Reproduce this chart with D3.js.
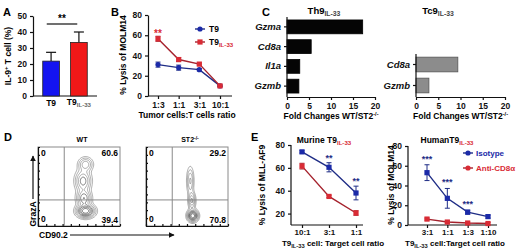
<!DOCTYPE html>
<html>
<head>
<meta charset="utf-8">
<script src="https://cdn.jsdelivr.net/npm/d3@7"></script>
<style>
  body { margin: 0; background: #fff; }
  svg { display: block; font-family: "Liberation Sans", Arial, sans-serif; font-weight: bold; }
  .axis path, .axis line { stroke: #111; stroke-width: 1.2; }
  .axis text { font-size: 8.5px; font-weight: bold; fill: #111; font-family: "Liberation Sans", Arial, sans-serif; }
</style>
</head>
<body>
<svg id="fig" width="520" height="250"></svg>
<script>
// ---- panel A
var aGroups = ['T9', 'T9IL-33'];
var aValues = [21.8, 33.5];
var aErrors = [5.5, 6.5];
var aTicks = [0, 10, 20, 30, 40, 50];

// ---- panel B
var bRatios = ['1:3', '1:1', '3:1', '10:1'];
var bT9 = [31, 28, 26, 10];
var bT9Err = [2.5, 2.5, 1.2, 0.8];
var bT9IL33 = [56.5, 36, 31.5, 10];
var bT9IL33Err = [2.5, 2, 1, 0.8];
var bTicks = [0, 20, 40, 60, 80];

// ---- panel C
var cTh9Genes = ['Gzma', 'Cd8a', 'Il1a', 'Gzmb'];
var cTh9Fold = [17.2, 5.5, 2.9, 2.7];
var cTc9Genes = ['Cd8a', 'Gzmb'];
var cTc9Fold = [9.4, 2.9];
var cTicks = [0, 5, 10, 15, 20];

// ---- panel D (quadrant %, density components [x, y, sx, sy, weight] in 0-100 units)
var dWTQuad = ['0', '60.6', '0', '39.4'];
var dST2Quad = ['0', '29.2', '0', '70.8'];
var dWTBlobs = [[58, 19, 6, 4.5, 1.0], [56, 35, 5, 6, 0.5], [55, 57, 5.5, 8, 0.45], [58, 78, 5, 5, 0.35]];
var dST2Blobs = [[57, 13, 3.5, 4, 1.0], [56, 32, 2.5, 6, 0.4], [54, 57, 2.5, 10, 0.28]];

// ---- panel E
var eMurineRatios = ['10:1', '3:1', '1:1'];
var eMurineIso = [74, 60.5, 38];
var eMurineIsoErr = [1, 4, 6];
var eMurineCD8 = [61.5, 35, 20.5];
var eMurineCD8Err = [2.5, 1, 2];
var eMurineStars = ['', '**', '**'];
var eMurineTicks = [20, 40, 60, 80];
var eHumanRatios = ['3:1', '1:1', '1:3', '1:10'];
var eHumanIso = [53, 27, 13, 8.5];
var eHumanIsoErr = [8, 10, 2, 1.5];
var eHumanCD8 = [6, 3, 2, 1.5];
var eHumanCD8Err = [1, 1, 1, 1];
var eHumanStars = ['***', '***', '***', ''];
var eHumanTicks = [0, 20, 40, 60, 80];

var svg = d3.select('#fig');
var BLUE = '#1b2aa8', NAVY = '#1f2d86', RED = '#d92b35', DRED = '#a5222d';

function label(x, y, txt, size, anchor) {
    return svg.append('text').attr('x', x).attr('y', y)
        .attr('text-anchor', anchor || 'start')
        .style('font-size', size + 'px').text(txt);
}

// main text + subscript tspan
function subText(g, x, y, main, sub, size, anchor, subColor) {
    var t = g.append('text').attr('x', x).attr('y', y).attr('text-anchor', anchor || 'middle')
        .style('font-size', size + 'px');
    t.append('tspan').text(main);
    t.append('tspan').attr('dy', 2).style('font-size', (size * 0.72) + 'px')
        .attr('fill', subColor || '#111').text(sub);
    return t;
}

function yTitle(x, y, txt, size) {
    return svg.append('text').attr('transform', 'translate(' + x + ',' + y + ') rotate(-90)')
        .attr('text-anchor', 'middle').style('font-size', size + 'px').text(txt);
}

function axis(g, gen, tx, ty) {
    return g.append('g').attr('class', 'axis')
        .attr('transform', 'translate(' + tx + ',' + ty + ')').call(gen);
}

// ================= A =================
label(3, 16, 'A', 11);
var ay = d3.scaleLinear().domain([0, 50]).range([96, 16]);
var ax = d3.scaleBand().domain(aGroups).range([33, 97]).paddingInner(0.4).paddingOuter(0.35);
axis(svg, d3.axisLeft(ay).tickValues(aTicks).tickSize(3).tickSizeOuter(0), 33, 0);
svg.append('line').attr('x1', 33).attr('x2', 97).attr('y1', 96).attr('y2', 96)
    .attr('stroke', '#111').attr('stroke-width', 1.2);
var aColors = ['#1414f0', '#f01818'];
aGroups.forEach(function(g, i) {
    var cx = ax(g) + ax.bandwidth() / 2;
    svg.append('line').attr('x1', cx).attr('x2', cx)
        .attr('y1', ay(aValues[i])).attr('y2', ay(aValues[i] + aErrors[i]))
        .attr('stroke', '#111').attr('stroke-width', 1.2);
    svg.append('line').attr('x1', cx - 5).attr('x2', cx + 5)
        .attr('y1', ay(aValues[i] + aErrors[i])).attr('y2', ay(aValues[i] + aErrors[i]))
        .attr('stroke', '#111').attr('stroke-width', 1.2);
    svg.append('rect').attr('x', ax(g)).attr('width', ax.bandwidth())
        .attr('y', ay(aValues[i])).attr('height', ay(0) - ay(aValues[i]))
        .attr('fill', aColors[i]).attr('stroke', '#222').attr('stroke-width', 0.8);
});
label(ax('T9') + ax.bandwidth() / 2, 106, 'T9', 8.5, 'middle');
subText(svg, ax('T9IL-33') + ax.bandwidth() / 2, 105, 'T9', 'IL-33', 8.5, 'middle', '#666');
svg.append('line').attr('x1', ax('T9') + 4).attr('x2', ax('T9IL-33') + ax.bandwidth() - 10)
    .attr('y1', 24).attr('y2', 24).attr('stroke', '#111').attr('stroke-width', 1.2);
label(62, 22, '**', 10, 'middle');
var at = svg.append('text').attr('transform', 'translate(11,56) rotate(-90)')
    .attr('text-anchor', 'middle').style('font-size', '8.5px');
at.append('tspan').text('IL-9');
at.append('tspan').attr('dy', -3).style('font-size', '6px').text('+');
at.append('tspan').attr('dy', 3).text(' T cell (%)');

// ================= B =================
label(111, 16, 'B', 11);
var by = d3.scaleLinear().domain([0, 80]).range([96, 15]);
var bx = d3.scalePoint().domain(bRatios).range([158, 220]);
axis(svg, d3.axisLeft(by).tickValues(bTicks).tickSize(3).tickSizeOuter(0), 148, 0);
axis(svg, d3.axisBottom(bx).tickSize(3).tickSizeOuter(0), 0, 96)
    .select('.domain').attr('d', 'M148,0H232');
yTitle(126, 55, '% Lysis of MOLM14', 8.5);
label(187, 118, 'Tumor cells:T cells ratio', 8.5, 'middle');

function series(xs, ys, cats, vals, errs, lineC, markC, shape) {
    var line = d3.line().x(function(d, i) { return xs(cats[i]); }).y(function(d) { return ys(d); });
    svg.append('path').datum(vals).attr('d', line).attr('fill', 'none')
        .attr('stroke', lineC).attr('stroke-width', 1.4);
    vals.forEach(function(v, i) {
        var x = xs(cats[i]);
        svg.append('line').attr('x1', x).attr('x2', x).attr('y1', ys(v - errs[i])).attr('y2', ys(v + errs[i]))
            .attr('stroke', lineC).attr('stroke-width', 1);
        [v - errs[i], v + errs[i]].forEach(function(e) {
            svg.append('line').attr('x1', x - 2.5).attr('x2', x + 2.5).attr('y1', ys(e)).attr('y2', ys(e))
                .attr('stroke', lineC).attr('stroke-width', 1);
        });
        drawMark(x, ys(v), markC, shape);
    });
}
function drawMark(x, y, c, shape) {
    if (shape === 'circle') {
        svg.append('circle').attr('cx', x).attr('cy', y).attr('r', 2.6).attr('fill', c);
    } else {
        svg.append('rect').attr('x', x - 2.6).attr('y', y - 2.6).attr('width', 5.2).attr('height', 5.2).attr('fill', c);
    }
}
series(bx, by, bRatios, bT9, bT9Err, NAVY, BLUE, 'circle');
series(bx, by, bRatios, bT9IL33, bT9IL33Err, DRED, RED, 'square');
svg.append('text').attr('x', bx('1:3')).attr('y', by(bT9IL33[0] + bT9IL33Err[0]) + 1)
    .attr('text-anchor', 'middle').attr('fill', RED).style('font-size', '10px').text('**');
// legend
svg.append('line').attr('x1', 195).attr('x2', 205).attr('y1', 29).attr('y2', 29).attr('stroke', NAVY).attr('stroke-width', 1.4);
drawMark(200, 29, BLUE, 'circle');
label(209, 32, 'T9', 8.5);
svg.append('line').attr('x1', 195).attr('x2', 205).attr('y1', 42).attr('y2', 42).attr('stroke', DRED).attr('stroke-width', 1.4);
drawMark(200, 42, RED, 'square');
subText(svg, 209, 45, 'T9', 'IL-33', 8.5, 'start', RED);

// ================= C =================
label(262, 16, 'C', 11);
function hbars(genes, vals, x0, x1, r0, r1, fill, stroke) {
    var xs = d3.scaleLinear().domain([0, 20]).range([x0, x1]);
    var ys = d3.scaleBand().domain(genes).range([r0, r1]).paddingInner(0.3).paddingOuter(0.15);
    svg.selectAll(null).data(genes).enter().append('rect')
        .attr('x', xs(0)).attr('y', function(d) { return ys(d); })
        .attr('width', function(d, i) { return xs(vals[i]) - xs(0); })
        .attr('height', ys.bandwidth()).attr('fill', fill).attr('stroke', stroke).attr('stroke-width', 0.8);
    var ya = axis(svg, d3.axisLeft(ys).tickSize(3).tickSizeOuter(0), x0, 0);
    ya.selectAll('text').style('font-style', 'italic').style('font-size', '9.5px');
    ya.select('.domain').attr('d', 'M0,' + r0 + 'V' + 97);
    axis(svg, d3.axisBottom(xs).tickValues(cTicks).tickSize(3).tickSizeOuter(0), 0, 97);
    var tt = svg.append('text').attr('x', (x0 + x1) / 2).attr('y', 119)
        .attr('text-anchor', 'middle').style('font-size', '8.5px');
    tt.append('tspan').text('Fold Changes WT/ST2');
    tt.append('tspan').attr('dy', -3).style('font-size', '5.5px').text('-/-');
}
hbars(cTh9Genes, cTh9Fold, 287, 375, 17, 96, '#050505', '#000');
hbars(cTc9Genes, cTc9Fold, 416, 505, 54, 96, '#8c8c8c', '#555');
subText(svg, 324, 14, 'Th9', 'IL-33', 9.5, 'middle', '#444');
subText(svg, 438, 14, 'Tc9', 'IL-33', 9.5, 'middle', '#444');

// ================= D =================
label(4, 141, 'D', 11);
function flowPlot(x0, x1, title, titleSup, quad, blobs) {
    var y0 = 147, y1 = 226, n = 90;
    var ux = d3.scaleLinear().domain([0, 100]).range([x0, x1]);
    var uy = d3.scaleLinear().domain([0, 100]).range([y1, y0]);
    var gx = d3.scaleLinear().domain([0, n]).range([x0, x1]);
    var gy = d3.scaleLinear().domain([0, n]).range([y0, y1]);
    var values = new Array(n * n);
    for (var j = 0; j < n; j++) {
        for (var i = 0; i < n; i++) {
            var px = (i + 0.5) / n * 100, py = 100 - (j + 0.5) / n * 100, s = 0;
            blobs.forEach(function(b) {
                s += b[4] * Math.exp(-((px - b[0]) * (px - b[0]) / (2 * b[2] * b[2]) + (py - b[1]) * (py - b[1]) / (2 * b[3] * b[3])));
            });
            values[j * n + i] = s;
        }
    }
    var mx = d3.max(values);
    var levels = [0.05, 0.1, 0.17, 0.26, 0.37, 0.5, 0.65, 0.82].map(function(f) { return f * mx; });
    var contours = d3.contours().size([n, n]).thresholds(levels)(values);
    var path = d3.geoPath(d3.geoTransform({
        point: function(x, y) { this.stream.point(gx(x), gy(y)); }
    }));
    svg.append('rect').attr('x', x0).attr('y', y0).attr('width', x1 - x0).attr('height', y1 - y0)
        .attr('fill', 'none').attr('stroke', '#8a8a8a').attr('stroke-width', 1);
    svg.append('g').selectAll('path').data(contours).enter().append('path')
        .attr('d', path).attr('fill', 'none').attr('stroke', function(d, i) { return i > 3 ? '#333' : '#777'; })
        .attr('stroke-width', 0.6);
    svg.append('line').attr('x1', ux(32)).attr('x2', ux(32)).attr('y1', y0).attr('y2', y1).attr('stroke', '#8a8a8a');
    svg.append('line').attr('x1', x0).attr('x2', x1).attr('y1', uy(33)).attr('y2', uy(33)).attr('stroke', '#8a8a8a');
    // small frame ticks
    axis(svg, d3.axisRight(uy).ticks(8).tickFormat('').tickSize(2).tickSizeOuter(0), x0, 0)
        .selectAll('path,line').attr('stroke', '#999').attr('stroke-width', 0.7);
    axis(svg, d3.axisTop(ux).ticks(10).tickFormat('').tickSize(2).tickSizeOuter(0), 0, y1)
        .selectAll('path,line').attr('stroke', '#999').attr('stroke-width', 0.7);
    label(x0 + 3, y0 + 9, quad[0], 8.5);
    label(x1 - 2, y0 + 9, quad[1], 8.5, 'end');
    label(x0 + 3, y1 - 4, quad[2], 8.5);
    label(x1 - 2, y1 - 3, quad[3], 8.5, 'end');
    var t = svg.append('text').attr('x', (x0 + x1) / 2 + 3).attr('y', 142).attr('text-anchor', 'middle').style('font-size', '7px');
    t.append('tspan').text(title);
    if (titleSup) t.append('tspan').attr('dy', -2.5).style('font-size', '5px').text(titleSup);
}
flowPlot(38, 120, 'WT', '', dWTQuad, dWTBlobs);
flowPlot(146, 228, 'ST2', '-/-', dST2Quad, dST2Blobs);
svg.append('defs').append('marker').attr('id', 'arr').attr('viewBox', '0 0 10 10')
    .attr('refX', 9).attr('refY', 5).attr('markerWidth', 5).attr('markerHeight', 5).attr('orient', 'auto')
    .append('path').attr('d', 'M0,0L10,5L0,10z').attr('fill', '#111');
svg.append('line').attr('x1', 33).attr('x2', 33).attr('y1', 199).attr('y2', 156)
    .attr('stroke', '#111').attr('stroke-width', 1.2).attr('marker-end', 'url(#arr)');
yTitle(36, 214, 'GrazA', 8.5);
label(39, 238, 'CD90.2', 8.5);
svg.append('line').attr('x1', 70).attr('x2', 174).attr('y1', 235).attr('y2', 235)
    .attr('stroke', '#111').attr('stroke-width', 1.2).attr('marker-end', 'url(#arr)');

// ================= E =================
label(251, 141, 'E', 11);
function lysisPlot(cats, iso, isoErr, cd8, cd8Err, stars, ticks, ymin, yr, xr, ax0, ax1, starDy) {
    var ys = d3.scaleLinear().domain([ymin, 80]).range(yr);
    var xs = d3.scalePoint().domain(cats).range(xr);
    axis(svg, d3.axisLeft(ys).tickValues(ticks).tickSize(3).tickSizeOuter(0), ax0, 0)
        .select('.domain').attr('d', 'M0,' + yr[1] + 'V' + yr[0]);
    var xa = axis(svg, d3.axisBottom(xs).tickSize(3).tickPadding(1.5).tickSizeOuter(0), 0, yr[0]);
    xa.select('.domain').attr('d', 'M' + ax0 + ',0H' + ax1);
    xa.selectAll('text').style('font-size', '8px');
    series(xs, ys, cats, cd8, cd8Err, DRED, RED, 'square');
    series(xs, ys, cats, iso, isoErr, NAVY, BLUE, 'square');
    stars.forEach(function(s, i) {
        if (!s) return;
        svg.append('text').attr('x', xs(cats[i])).attr('y', ys(iso[i] + isoErr[i]) - starDy)
            .attr('text-anchor', 'middle').attr('fill', NAVY).style('font-size', '9px').text(s);
    });
}
lysisPlot(eMurineRatios, eMurineIso, eMurineIsoErr, eMurineCD8, eMurineCD8Err, eMurineStars,
    eMurineTicks, 10, [225, 145], [302, 356], 291, 363, 2);
subText(svg, 324, 143, 'Murine T9', 'IL-33', 8.5, 'middle', RED);
yTitle(265, 185, '% Lysis of MLL-AF9', 8.5);
subText(svg, 333, 246, 'T9', 'IL-33', 8, 'middle', '#111').append('tspan').attr('dy', -2).text(' cell: Target cell ratio');

lysisPlot(eHumanRatios, eHumanIso, eHumanIsoErr, eHumanCD8, eHumanCD8Err, eHumanStars,
    eHumanTicks, 0, [225, 146], [427, 488], 408, 497, 3);
subText(svg, 447, 143, 'HumanT9', 'IL-33', 8.5, 'middle', RED);
yTitle(394, 185, '% Lysis of MOLM14', 8.5);
subText(svg, 455, 246, 'T9', 'IL-33', 8, 'middle', '#111').append('tspan').attr('dy', -2).text(' cell:Target cell ratio');
// legend
svg.append('line').attr('x1', 463).attr('x2', 473).attr('y1', 153).attr('y2', 153).attr('stroke', NAVY).attr('stroke-width', 1.4);
drawMark(468, 153, BLUE, 'circle');
svg.append('text').attr('x', 476).attr('y', 156).attr('fill', BLUE).style('font-size', '8px').text('Isotype');
svg.append('line').attr('x1', 463).attr('x2', 473).attr('y1', 168).attr('y2', 168).attr('stroke', DRED).attr('stroke-width', 1.4);
drawMark(468, 168, RED, 'circle');
svg.append('text').attr('x', 476).attr('y', 171).attr('fill', RED).style('font-size', '8px').text('Anti-CD8\u03b1');
</script>
</body>
</html>
